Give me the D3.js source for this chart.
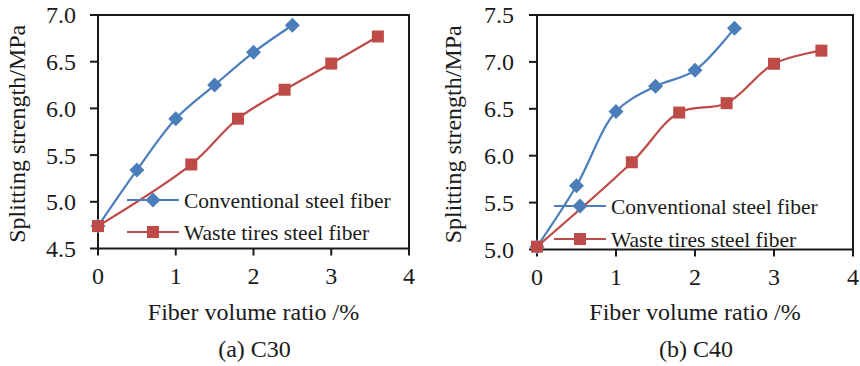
<!DOCTYPE html>
<html>
<head>
<meta charset="utf-8">
<script src="https://cdn.jsdelivr.net/npm/d3@7"></script>
<style>
  body { margin: 0; background: #fff; }
</style>
</head>
<body>
<svg id="chart" width="860" height="366"></svg>
<script>
// fiber volume ratio (%) for each series
var convX = [0, 0.5, 1, 1.5, 2, 2.5];
var wasteX = [0, 1.2, 1.8, 2.4, 3, 3.6];
// splitting strength (MPa)
var c30Conv = [4.74, 5.34, 5.89, 6.25, 6.60, 6.89];
var c30Waste = [4.74, 5.40, 5.89, 6.20, 6.48, 6.77];
var c40Conv = [5.03, 5.68, 6.47, 6.74, 6.91, 7.36];
var c40Waste = [5.03, 5.93, 6.46, 6.56, 6.98, 7.12];
var seriesNames = ["Conventional steel fiber", "Waste tires steel fiber"];
var xTicks = [0, 1, 2, 3, 4];
var c30Ticks = [4.5, 5.0, 5.5, 6.0, 6.5, 7.0];
var c40Ticks = [5.0, 5.5, 6.0, 6.5, 7.0, 7.5];

var BLUE = "#4a7ebb", RED = "#be4b48", INK = "#1a1a1a";

var svg = d3.select("#chart");

// every label goes through here so the serif face is set on the text itself
function label(g, size) {
    return g.append("text")
        .style("font-family", "'Liberation Serif', 'Times New Roman', serif", "important")
        .style("font-size", size + "px")
        .attr("fill", INK);
}

function drawPanel(p) {
    var x = d3.scaleLinear().domain([0, 4]).range([p.left, p.right]);
    var y = d3.scaleLinear().domain(p.yDomain).range([p.bottom, p.top]);
    var g = svg.append("g");

    // frame
    g.append("rect")
        .attr("x", p.left).attr("y", p.top)
        .attr("width", p.right - p.left).attr("height", p.bottom - p.top)
        .attr("fill", "none").attr("stroke", INK).attr("stroke-width", 2);

    // y ticks
    p.yTicks.forEach(function (t) {
        g.append("line")
            .attr("x1", p.left - 8).attr("x2", p.left)
            .attr("y1", y(t)).attr("y2", y(t))
            .attr("stroke", INK).attr("stroke-width", 2);
        label(g, 24).attr("x", p.left - p.labelGap).attr("y", y(t))
            .attr("dy", "0.35em").attr("text-anchor", "end")
            .text(d3.format(".1f")(t));
    });

    // x ticks
    xTicks.forEach(function (t) {
        g.append("line")
            .attr("x1", x(t)).attr("x2", x(t))
            .attr("y1", p.bottom).attr("y2", p.bottom + 7)
            .attr("stroke", INK).attr("stroke-width", 2);
        label(g, 24).attr("x", x(t)).attr("y", p.bottom + 35)
            .attr("text-anchor", "middle").text(t);
    });

    // axis titles
    label(g, 24).attr("x", (p.left + p.right) / 2).attr("y", 320)
        .attr("text-anchor", "middle").text("Fiber volume ratio /%");
    label(g, 24)
        .attr("transform", "translate(" + p.yTitleX + "," + ((p.top + p.bottom) / 2 + 2) + ") rotate(-90)")
        .attr("text-anchor", "middle").text("Splitting strength/MPa");
    label(g, 24).attr("x", (p.left + p.right) / 2 + 1).attr("y", 357)
        .attr("text-anchor", "middle").text(p.caption);

    var line = d3.line().x(d => x(d[0])).y(d => y(d[1])).curve(d3.curveCatmullRom.alpha(0.5));

    var conv = convX.map((v, i) => [v, p.conv[i]]);
    var waste = wasteX.map((v, i) => [v, p.waste[i]]);

    g.append("path").datum(conv).attr("d", line)
        .attr("fill", "none").attr("stroke", BLUE).attr("stroke-width", 2.2);
    g.selectAll(".dm").data(conv).enter().append("path")
        .attr("d", "M0,-7.5L7.5,0L0,7.5L-7.5,0Z")
        .attr("transform", d => "translate(" + x(d[0]) + "," + y(d[1]) + ")")
        .attr("fill", BLUE);

    g.append("path").datum(waste).attr("d", line)
        .attr("fill", "none").attr("stroke", RED).attr("stroke-width", 2.2);
    g.selectAll(".sq").data(waste).enter().append("rect")
        .attr("x", d => x(d[0]) - 6).attr("y", d => y(d[1]) - 6)
        .attr("width", 12).attr("height", 12)
        .attr("fill", RED);

    // legend
    var lx = p.legendX, ly = p.legendY;
    g.append("line").attr("x1", lx).attr("x2", lx + 52)
        .attr("y1", ly).attr("y2", ly).attr("stroke", BLUE).attr("stroke-width", 2.2);
    g.append("path").attr("d", "M0,-7.5L7.5,0L0,7.5L-7.5,0Z")
        .attr("transform", "translate(" + (lx + 26) + "," + ly + ")").attr("fill", BLUE);
    label(g, 21.5).attr("x", lx + 57).attr("y", ly).attr("dy", "0.35em").text(seriesNames[0]);

    var ly2 = ly + p.legendStep;
    g.append("line").attr("x1", lx).attr("x2", lx + 52)
        .attr("y1", ly2).attr("y2", ly2).attr("stroke", RED).attr("stroke-width", 2.2);
    g.append("rect").attr("x", lx + 20).attr("y", ly2 - 6)
        .attr("width", 12).attr("height", 12).attr("fill", RED);
    label(g, 21.5).attr("x", lx + 57).attr("y", ly2).attr("dy", "0.35em").text(seriesNames[1]);
}

drawPanel({
    left: 98, right: 409, top: 15, bottom: 248.5,
    yDomain: [4.5, 7.0], yTicks: c30Ticks, labelGap: 22,
    conv: c30Conv, waste: c30Waste,
    yTitleX: 25, caption: "(a) C30",
    legendX: 127, legendY: 200, legendStep: 32
});

drawPanel({
    left: 537, right: 853, top: 15, bottom: 249.5,
    yDomain: [5.0, 7.5], yTicks: c40Ticks, labelGap: 23,
    conv: c40Conv, waste: c40Waste,
    yTitleX: 461, caption: "(b) C40",
    legendX: 554, legendY: 206, legendStep: 33
});
</script>
</body>
</html>
